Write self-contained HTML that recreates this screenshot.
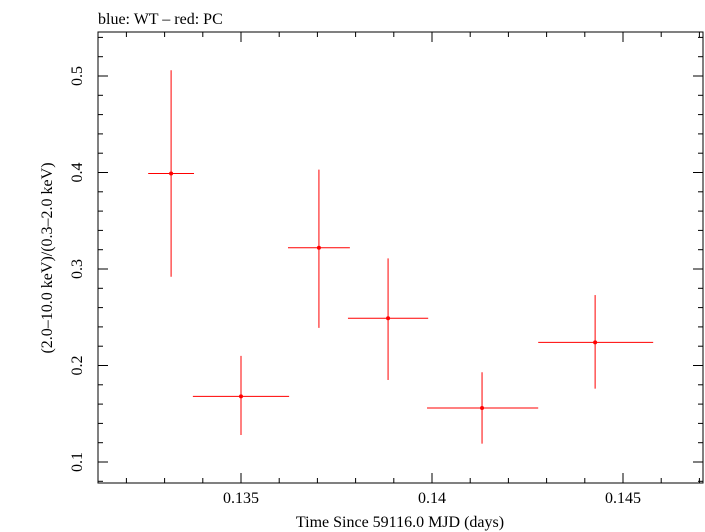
<!DOCTYPE html>
<html><head><meta charset="utf-8"><style>
body{margin:0;background:#fff;}
svg{display:block;font-family:"Liberation Serif",serif;}
</style></head><body>
<svg id="chart" width="705" height="532" viewBox="0 0 705 532">
<text x="98" y="24" font-size="16">blue: WT – red: PC</text>
<rect x="98" y="32" width="605" height="451" fill="none" stroke="#000" stroke-width="1"/>
<g id="axes"></g>
<g id="marks"></g>
<text x="400" y="527" font-size="16" text-anchor="middle">Time Since 59116.0 MJD (days)</text>
<text transform="translate(52,258) rotate(-90)" font-size="16" text-anchor="middle">(2.0–10.0 keV)/(0.3–2.0 keV)</text>
</svg>
<script>
const xCenters=[0.13317,0.13500,0.13704,0.13885,0.14131,0.14427];
const xErrLo=[0.13257,0.13374,0.13623,0.13780,0.13987,0.14278];
const xErrHi=[0.13377,0.13626,0.13785,0.13990,0.14278,0.14579];
const yValues=[0.399,0.168,0.322,0.249,0.156,0.224];
const yErrLo=[0.292,0.128,0.239,0.185,0.119,0.176];
const yErrHi=[0.506,0.210,0.403,0.311,0.193,0.273];
const xTicks=[0.135,0.140,0.145];
const xTickLabels=["0.135","0.14","0.145"];
const yTicks=[0.1,0.2,0.3,0.4,0.5];
const yTickLabels=["0.1","0.2","0.3","0.4","0.5"];
const NS="http://www.w3.org/2000/svg";
const L=98,R=703,T=32,B=483;
const X=v=>241+(v-0.135)*38200;
const Y=v=>76+(0.5-v)*965;
const axes=document.getElementById('axes'),marks=document.getElementById('marks');
function ln(g,x1,y1,x2,y2,c,n){const e=document.createElementNS(NS,'line');e.setAttribute('x1',x1);e.setAttribute('y1',y1);e.setAttribute('x2',x2);e.setAttribute('y2',y2);e.setAttribute('stroke',c);e.setAttribute('stroke-width',1);


g.appendChild(e);}
function tx(x,y,s,anchor,rot,n){const e=document.createElementNS(NS,'text');e.setAttribute('font-size','16');e.setAttribute('text-anchor',anchor);
if(rot)e.setAttribute('transform',`translate(${x},${y}) rotate(-90)`);else{e.setAttribute('x',x);e.setAttribute('y',y);}
e.textContent=s;


axes.appendChild(e);}
for(let v=0.132;v<=0.1470001;v+=0.001){const x=X(v);if(x<L||x>R)continue;const major=xTicks.some(t=>Math.abs(t-v)<1e-6);const len=major?10:5;
ln(axes,x,B,x,B-len,'#000','x-tick');ln(axes,x,T,x,T+len,'#000','x-tick-top');}
xTicks.forEach((t,i)=>tx(X(t),503,xTickLabels[i],'middle',false,'x-tick-label'));
for(let v=0.08;v<=0.541;v+=0.02){const y=Y(v);if(y<T||y>B)continue;const major=yTicks.some(t=>Math.abs(t-v)<1e-6);const len=major?10:5;
ln(axes,L,y,L+len,y,'#000','y-tick');ln(axes,R,y,R-len,y,'#000','y-tick-right');}
yTicks.forEach((t,i)=>tx(82,Y(t),yTickLabels[i],'middle',true,'y-tick-label'));
for(let i=0;i<yValues.length;i++){
ln(marks,X(xErrLo[i]),Y(yValues[i]),X(xErrHi[i]),Y(yValues[i]),'#f00','x-error-bar');
ln(marks,X(xCenters[i]),Y(yErrLo[i]),X(xCenters[i]),Y(yErrHi[i]),'#f00','y-error-bar');
const c=document.createElementNS(NS,'circle');c.setAttribute('cx',X(xCenters[i]));c.setAttribute('cy',Y(yValues[i]));c.setAttribute('r',2);c.setAttribute('fill','#f00');


marks.appendChild(c);}
</script>
</body></html>
